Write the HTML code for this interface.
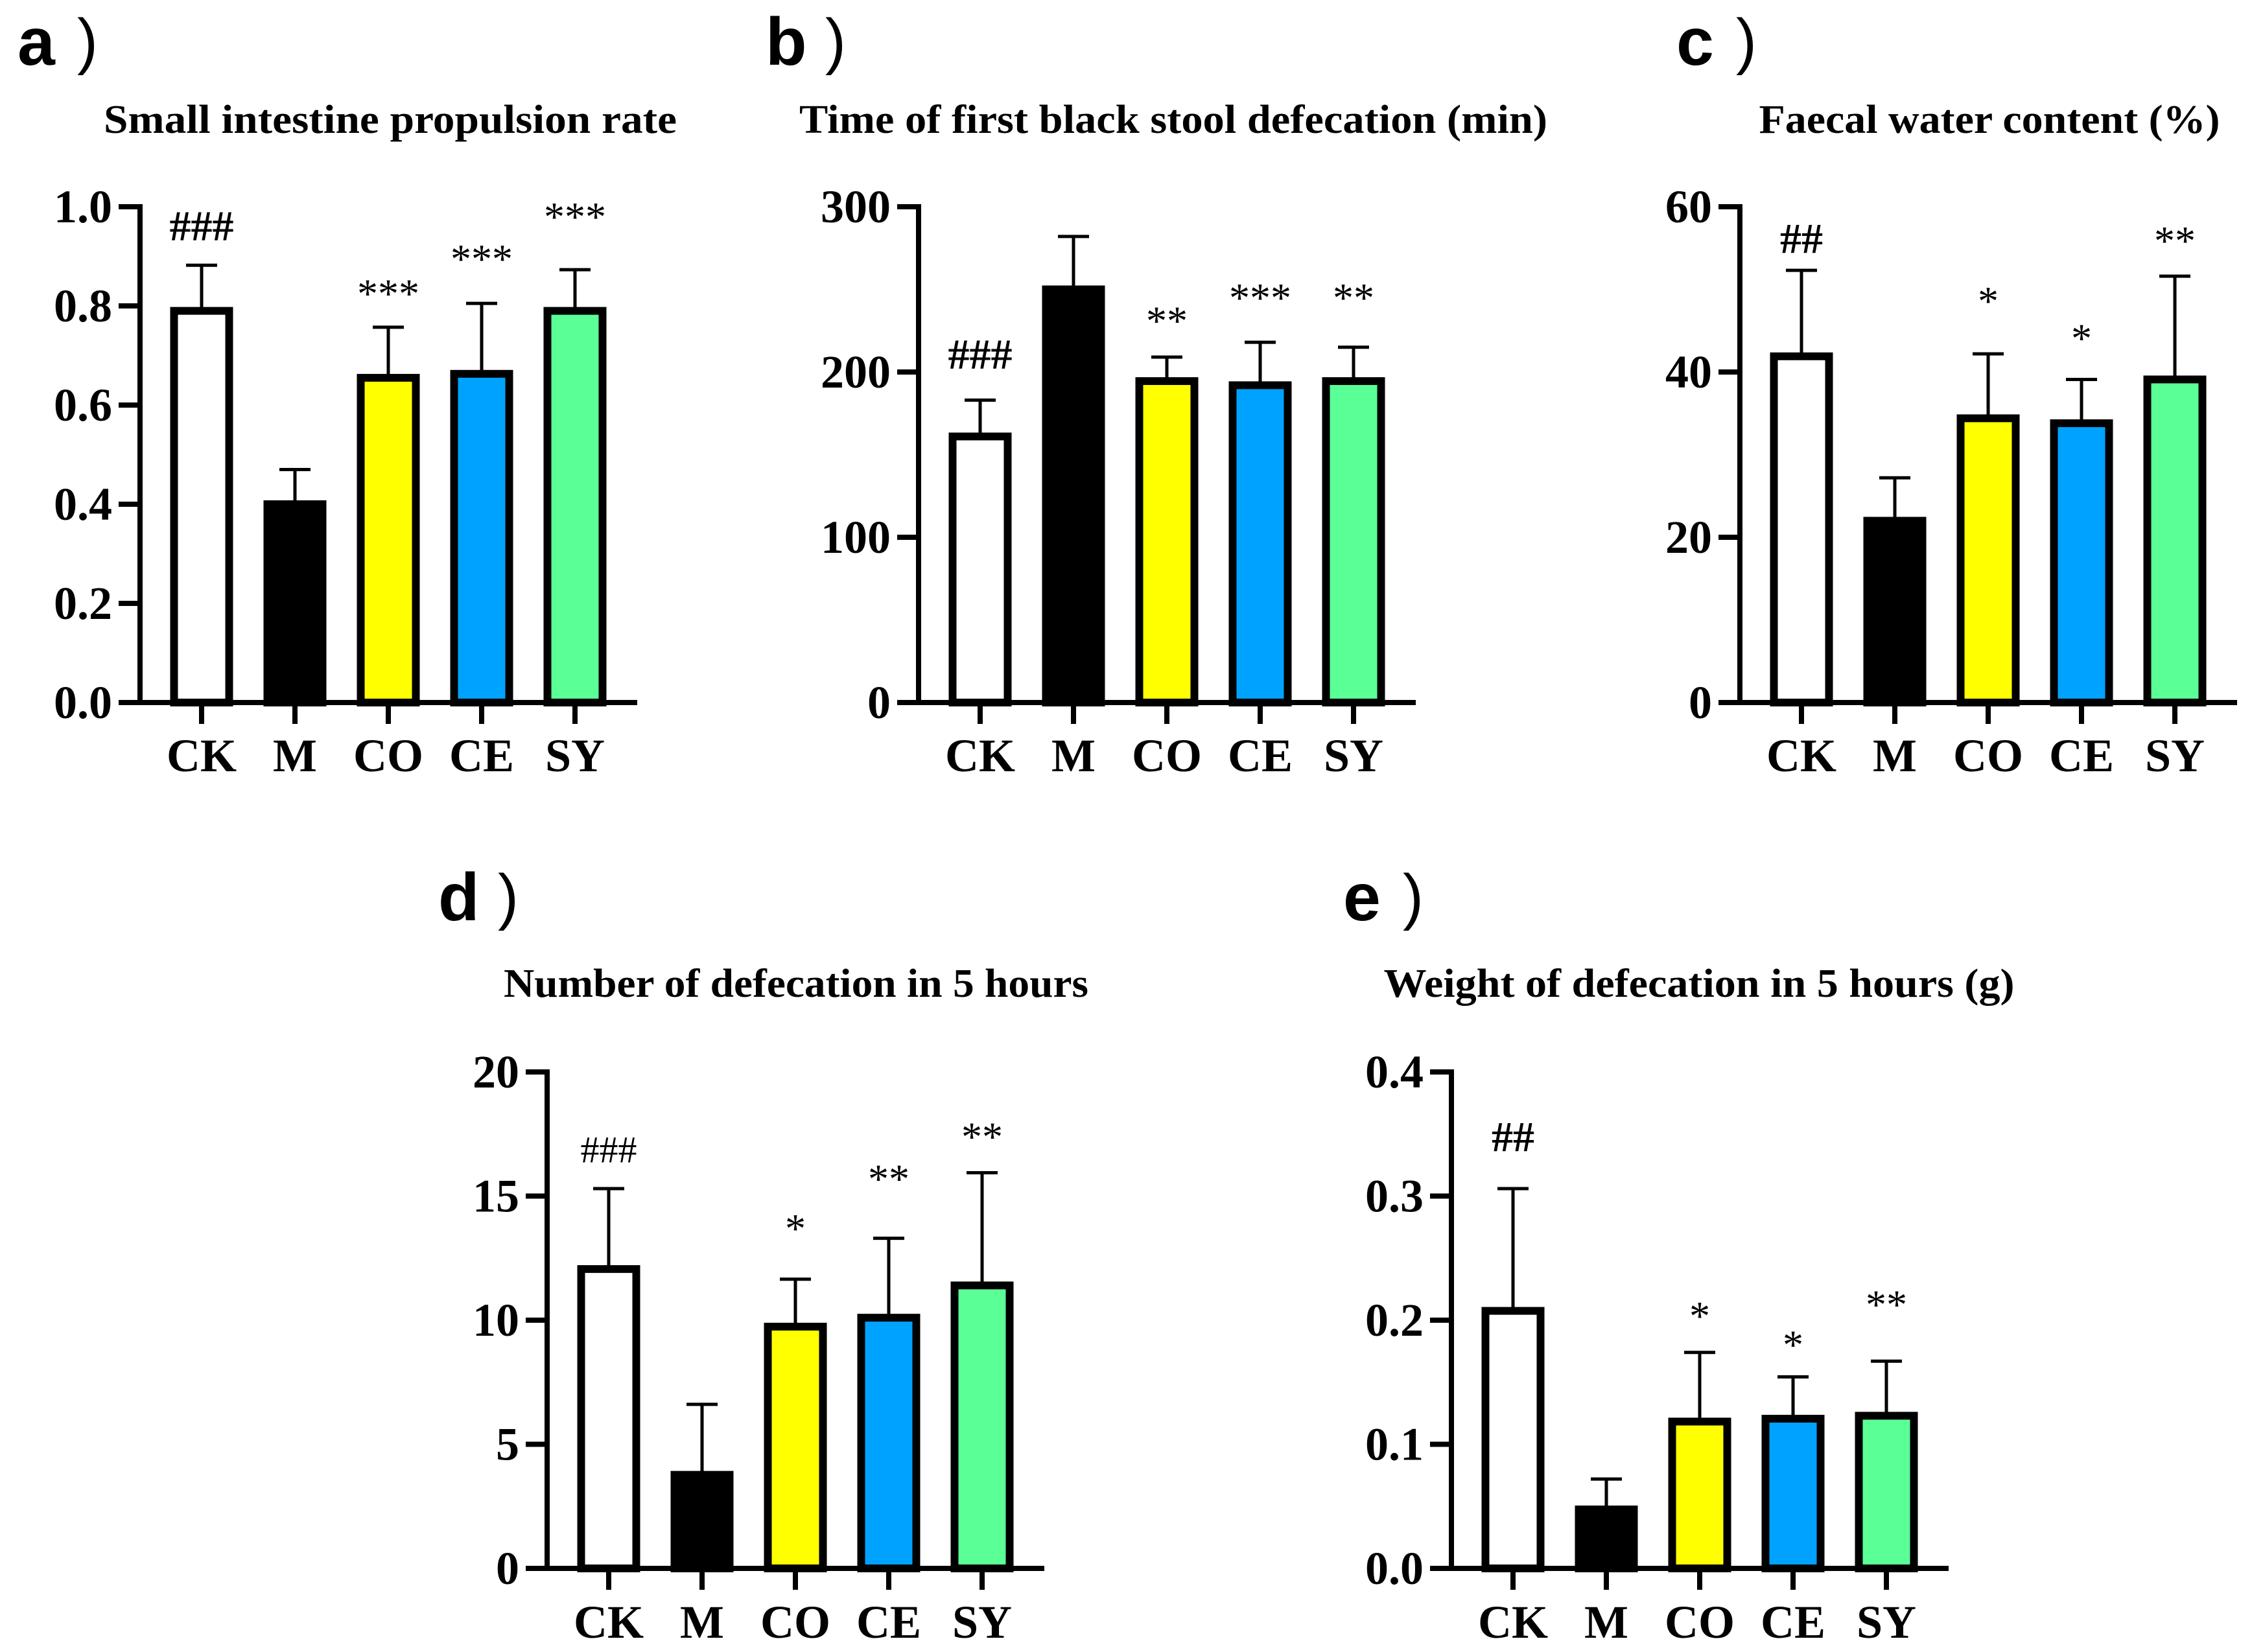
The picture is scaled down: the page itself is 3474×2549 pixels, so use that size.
<!DOCTYPE html>
<html><head><meta charset="utf-8"><style>
html,body{margin:0;padding:0;background:#fff;}
svg{display:block;}
.tick{font-family:"Liberation Serif",serif;font-weight:bold;font-size:72px;}
.cat{font-family:"Liberation Serif",serif;font-weight:bold;font-size:72px;}
.title{font-family:"Liberation Serif",serif;font-weight:bold;font-size:62px;}
.plabel{font-family:"Liberation Sans",sans-serif;font-weight:bold;font-size:104px;}
.paren{font-family:"Liberation Sans",sans-serif;font-size:96px;}
</style></head><body>
<svg id="fig" width="3474" height="2549" viewBox="0 0 3474 2549" xmlns="http://www.w3.org/2000/svg"></svg>
<script>
const categories = ["CK","M","CO","CE","SY"];
const colors = ["#ffffff","#000000","#ffff00","#00a2ff","#5aff96"];

const aValues = [0.79,0.40,0.655,0.663,0.79];
const aErrTop = [0.882,0.47,0.757,0.805,0.873];
const aTicks = ["0.0","0.2","0.4","0.6","0.8","1.0"];
const aAnnot = ["###","","***","***","***"];
const aAnnotY = [0.962,0,0.835,0.905,0.99];

const bValues = [161,250,194.5,192,194.5];
const bErrTop = [183,282,209,218,215];
const bTicks = ["0","100","200","300"];
const bAnnot = ["###","","**","***","**"];
const bAnnotY = [211,0,234,248,248];

const cValues = [41.9,22,34.4,33.8,39.1];
const cErrTop = [52.3,27.2,42.2,39.1,51.6];
const cTicks = ["0","20","40","60"];
const cAnnot = ["##","","*","*","**"];
const cAnnotY = [56.2,0,49.2,44.7,56.5];

const dValues = [12.06,3.77,9.74,10.1,11.4];
const dErrTop = [15.3,6.61,11.65,13.3,15.94];
const dTicks = ["0","5","10","15","20"];
const dAnnot = ["###","","*","**","**"];
const dAnnotY = [16.87,0,13.9,15.9,17.6];

const eValues = [0.2075,0.0475,0.1183,0.1206,0.123];
const eErrTop = [0.306,0.072,0.174,0.1543,0.167];
const eTicks = ["0.0","0.1","0.2","0.3","0.4"];
const eAnnot = ["##","","*","*","**"];
const eAnnotY = [0.348,0,0.2075,0.1843,0.2168];

const NS = "http://www.w3.org/2000/svg";
const svg = document.getElementById("fig");
function mk(tag, attrs, parent){
  const el = document.createElementNS(NS, tag);
  for (const k in attrs) el.setAttribute(k, attrs[k]);
  (parent||svg).appendChild(el);
  return el;
}

function panel(cfg){
  const g = mk("g", {});
  
  
  const axX = cfg.axX, y0 = cfg.y0, yTop = cfg.yTop, max = cfg.max;
  const yS = v => y0 - (v/max)*(y0-yTop);
  const xS = i => axX + 95 + i*144;
  const pl = mk("text", {x: cfg.lx, y: cfg.ly, class:"plabel"}, g);
  pl.textContent = cfg.id;
  
  
  const pp = mk("text", {x: cfg.lx+92, y: cfg.ly-4, class:"paren"}, g);
  pp.textContent = ")";
  
  
  const t = mk("text", {x: cfg.tc, y: cfg.ty, class:"title", "text-anchor":"middle", textLength: cfg.tw, lengthAdjust:"spacingAndGlyphs"}, g);
  t.textContent = cfg.title;
  
  
  cfg.values.forEach((v,i)=>{
    const cx = xS(i);
    const top = yS(v);
    const err = mk("line", {x1:cx, x2:cx, y1:yS(cfg.err[i]), y2:top, stroke:"#000","stroke-width":5}, g);
    
    
    const cap = mk("line", {x1:cx-24, x2:cx+24, y1:yS(cfg.err[i]), y2:yS(cfg.err[i]), stroke:"#000","stroke-width":5}, g);
    
    
    const r = mk("rect", {x:cx-42.5, y:top, width:85, height:y0-top, fill:colors[i], stroke:"#000","stroke-width":12}, g);
    
    
    if (cfg.annot[i]){
      const isHash = cfg.annot[i][0]==="#";
      const fs = isHash ? cfg.hashSize : 64;
      const ay = yS(cfg.annotY[i]) + (isHash ? 0.34*fs : 0.46*fs);
      const a = mk("text", {x:cx, y:ay, "text-anchor":"middle", "font-family":"Liberation Serif, serif", "font-size":fs, "font-weight": (isHash && cfg.hashBold) ? "bold":"normal"}, g);
      a.textContent = cfg.annot[i];
      
      
    }
    const tk = mk("line", {x1:cx, x2:cx, y1:y0, y2:y0+33, stroke:"#000","stroke-width":8}, g);
    
    
    const cl = mk("text", {x:cx, y:cfg.catY, class:"cat", "text-anchor":"middle"}, g);
    cl.textContent = categories[i];
    
    
  });
  const ya = mk("line", {x1:axX, x2:axX, y1:yTop-4, y2:y0+4, stroke:"#000","stroke-width":8}, g);
  
  
  const xa = mk("line", {x1:axX-33, x2:axX+767, y1:y0, y2:y0, stroke:"#000","stroke-width":8}, g);
  
  
  const n = cfg.ticks.length;
  cfg.ticks.forEach((lab,k)=>{
    const v = max*k/(n-1);
    const y = yS(v);
    const tl = mk("line", {x1:axX-33, x2:axX, y1:y, y2:y, stroke:"#000","stroke-width":8}, g);
    
    
    const tt = mk("text", {x:axX-43, y:y+24, class:"tick", "text-anchor":"end"}, g);
    tt.textContent = lab;
    
    
  });
}

panel({id:"a", axX:216, y0:1084, yTop:319, max:1.0, values:aValues, err:aErrTop, ticks:aTicks, annot:aAnnot, annotY:aAnnotY,
  title:"Small intestine propulsion rate", tc:602, tw:884, ty:205, lx:27, ly:100, catY:1190, hashSize:66, hashBold:true});
panel({id:"b", axX:1417, y0:1084, yTop:319, max:300, values:bValues, err:bErrTop, ticks:bTicks, annot:bAnnot, annotY:bAnnotY,
  title:"Time of first black stool defecation (min)", tc:1810, tw:1154, ty:205, lx:1181, ly:100, catY:1190, hashSize:66, hashBold:true});
panel({id:"c", axX:2684, y0:1084, yTop:319, max:60, values:cValues, err:cErrTop, ticks:cTicks, annot:cAnnot, annotY:cAnnotY,
  title:"Faecal water content (%)", tc:3069, tw:711, ty:205, lx:2586, ly:100, catY:1190, hashSize:66, hashBold:true});
panel({id:"d", axX:844, y0:2420, yTop:1654, max:20, values:dValues, err:dErrTop, ticks:dTicks, annot:dAnnot, annotY:dAnnotY,
  title:"Number of defecation in 5 hours", tc:1228, tw:902, ty:1538, lx:676, ly:1420, catY:2527, hashSize:58, hashBold:false});
panel({id:"e", axX:2239, y0:2420, yTop:1654, max:0.4, values:eValues, err:eErrTop, ticks:eTicks, annot:eAnnot, annotY:eAnnotY,
  title:"Weight of defecation in 5 hours (g)", tc:2621, tw:973, ty:1538, lx:2072, ly:1420, catY:2527, hashSize:66, hashBold:true});
</script>
</body></html>
